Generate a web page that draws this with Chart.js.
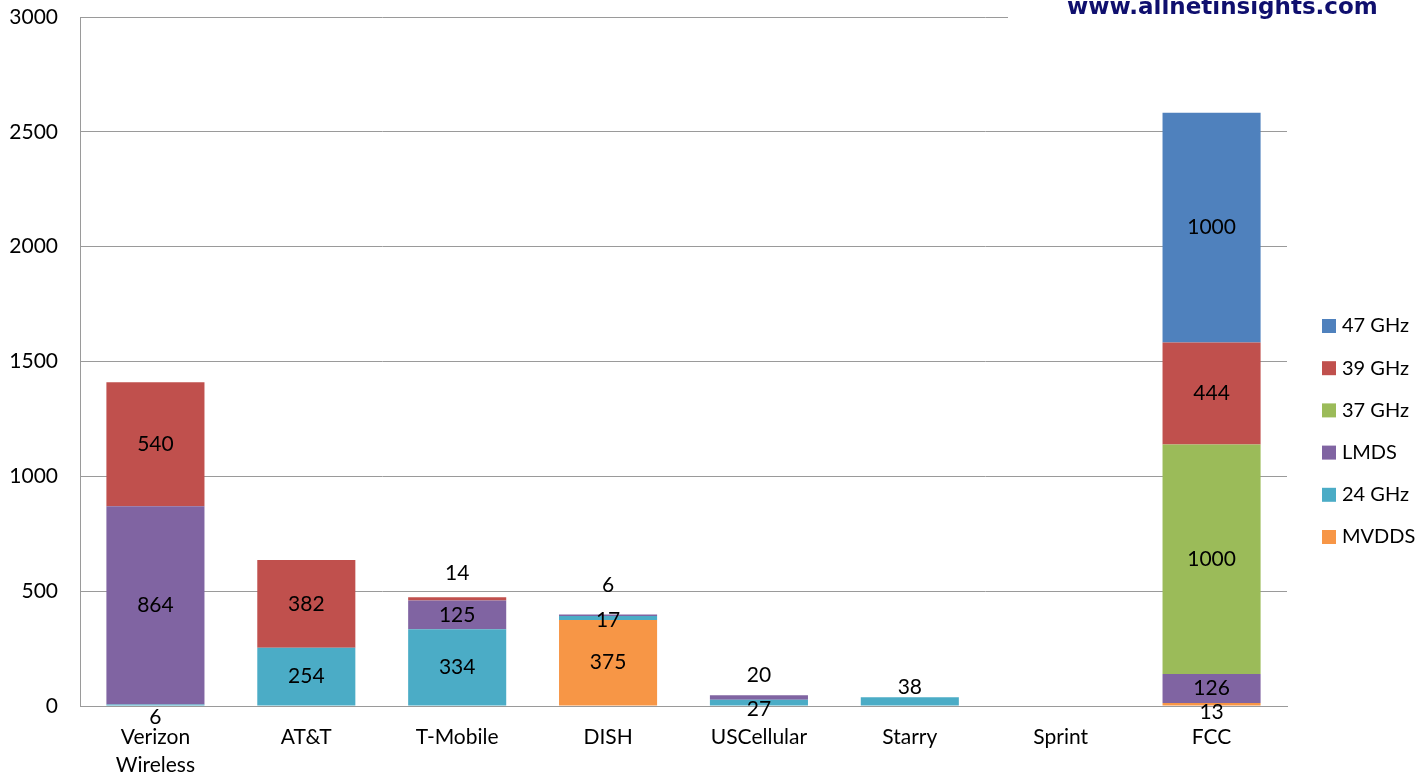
<!DOCTYPE html>
<html>
<head>
<meta charset="utf-8">
<title>Spectrum holdings</title>
<script src="https://cdn.jsdelivr.net/npm/chart.js@4.4.1/dist/chart.umd.min.js"></script>
<style>
  html, body { margin: 0; padding: 0; background: #fff; }
  #wrap { width: 1426px; height: 776px; position: relative; }
</style>
</head>
<body>
<div id="wrap"><canvas id="chart"></canvas></div>
<script>
// Categories and series values (bottom of the stack first)
const categories = [['Verizon', 'Wireless'], 'AT&T', 'T-Mobile', 'DISH', 'USCellular', 'Starry', 'Sprint', 'FCC'];
const mvdds  = [null, null, null, 375, null, null, null, 13];
const ghz24  = [6, 254, 334, 17, 27, 38, null, null];
const lmds   = [864, null, 125, 6, 20, null, null, 126];
const ghz37  = [null, null, null, null, null, null, null, 1000];
const ghz39  = [540, 382, 14, null, null, null, null, 444];
const ghz47  = [null, null, null, null, null, null, null, 1000];
const yTicks = [0, 500, 1000, 1500, 2000, 2500, 3000];

const FONT = "Lato, 'Open Sans', sans-serif";
const FONT_SIZE = 21;

// nudges (px) for labels of thin segments, keyed "dataset:category"
const labelNudge = {
  '1:0': 12,   // Verizon 6
  '4:2': -26,  // T-Mobile 14
  '2:3': -30,  // DISH 6
  '1:3': 2,    // DISH 17
  '1:4': 7,    // USCellular 27
  '2:4': -22,  // USCellular 20
  '1:5': -14,  // Starry 38
  '0:7': 8     // FCC 13
};

// Data labels centred in each segment
const segmentLabels = {
  id: 'segmentLabels',
  afterDatasetsDraw(chart) {
    const ctx = chart.ctx;
    ctx.save();
    ctx.font = `${FONT_SIZE}px ${FONT}`;
    ctx.fillStyle = '#000';
    ctx.textAlign = 'center';
    ctx.textBaseline = 'middle';
    chart.data.datasets.forEach((ds, di) => {
      const meta = chart.getDatasetMeta(di);
      meta.data.forEach((bar, i) => {
        const v = ds.data[i];
        if (v === null || v === undefined) return;
        const y = (bar.y + bar.base) / 2 + (labelNudge[di + ':' + i] || 0);
        ctx.fillText(String(v), bar.x, y);
      });
    });
    ctx.restore();
  }
};

// Legend on the right, top series first
const sideLegend = {
  id: 'sideLegend',
  afterDraw(chart) {
    const ctx = chart.ctx;
    const sets = chart.data.datasets.slice().reverse();
    ctx.save();
    ctx.font = `${FONT_SIZE - 1}px ${FONT}`;
    ctx.textBaseline = 'middle';
    ctx.textAlign = 'left';
    sets.forEach((ds, k) => {
      const cy = 326 + k * 42.2;
      ctx.fillStyle = ds.backgroundColor;
      ctx.fillRect(1322, cy - 7, 14, 14);
      ctx.fillStyle = '#000';
      ctx.fillText(ds.label, 1342, cy);
    });
    ctx.restore();
  }
};

// Watermark in the top right corner, on a white patch that hides the grid
const watermark = {
  id: 'watermark',
  afterDraw(chart) {
    const ctx = chart.ctx;
    ctx.save();
    ctx.fillStyle = '#fff';
    ctx.fillRect(1008, 0, 300, 24);
    ctx.font = "bold 23px 'DejaVu Sans', Verdana, sans-serif";
    ctx.fillStyle = '#0f0f6e';
    ctx.textAlign = 'left';
    ctx.textBaseline = 'alphabetic';
    ctx.fillText('www.allnetinsights.com', 1067, 14);
    ctx.restore();
  }
};

const barStyle = { barPercentage: 0.65, categoryPercentage: 1.0, borderWidth: 0 };

new Chart(document.getElementById('chart'), {
  type: 'bar',
  data: {
    labels: categories,
    datasets: [
      { label: 'MVDDS',  data: mvdds, backgroundColor: '#F79646', ...barStyle },
      { label: '24 GHz', data: ghz24, backgroundColor: '#4BACC6', ...barStyle },
      { label: 'LMDS',   data: lmds,  backgroundColor: '#8064A2', ...barStyle },
      { label: '37 GHz', data: ghz37, backgroundColor: '#9BBB59', ...barStyle },
      { label: '39 GHz', data: ghz39, backgroundColor: '#C0504D', ...barStyle },
      { label: '47 GHz', data: ghz47, backgroundColor: '#4F81BD', ...barStyle }
    ]
  },
  options: {
    responsive: true,
    maintainAspectRatio: false,
    animation: false,
    layout: { padding: { top: 17, right: 139, left: 0, bottom: 0 } },
    plugins: {
      legend: { display: false },
      tooltip: { enabled: false }
    },
    scales: {
      x: {
        stacked: true,
        grid: { display: false, drawTicks: false },
        border: { display: true, color: '#9a9a9a', width: 1 },
        ticks: {
          color: '#000',
          padding: 17,
          font: { family: FONT, size: FONT_SIZE, lineHeight: 1.35 }
        },
        afterFit(scale) {
          scale.height = 70;
          scale.paddingTop = 0;
        }
      },
      y: {
        stacked: true,
        min: 0,
        max: 3000,
        afterBuildTicks(scale) { scale.ticks = yTicks.map(v => ({ value: v })); },
        grid: { color: '#9a9a9a', lineWidth: 1, drawTicks: false },
        border: { display: true, color: '#9a9a9a', width: 1 },
        ticks: {
          color: '#000',
          padding: 22,
          font: { family: FONT, size: FONT_SIZE },
          callback: v => String(v)
        },
        afterFit(scale) {
          scale.width = 80;
          scale.paddingTop = 0;
          scale.paddingBottom = 0;
        }
      }
    }
  },
  plugins: [segmentLabels, sideLegend, watermark]
});
</script>
</body>
</html>
